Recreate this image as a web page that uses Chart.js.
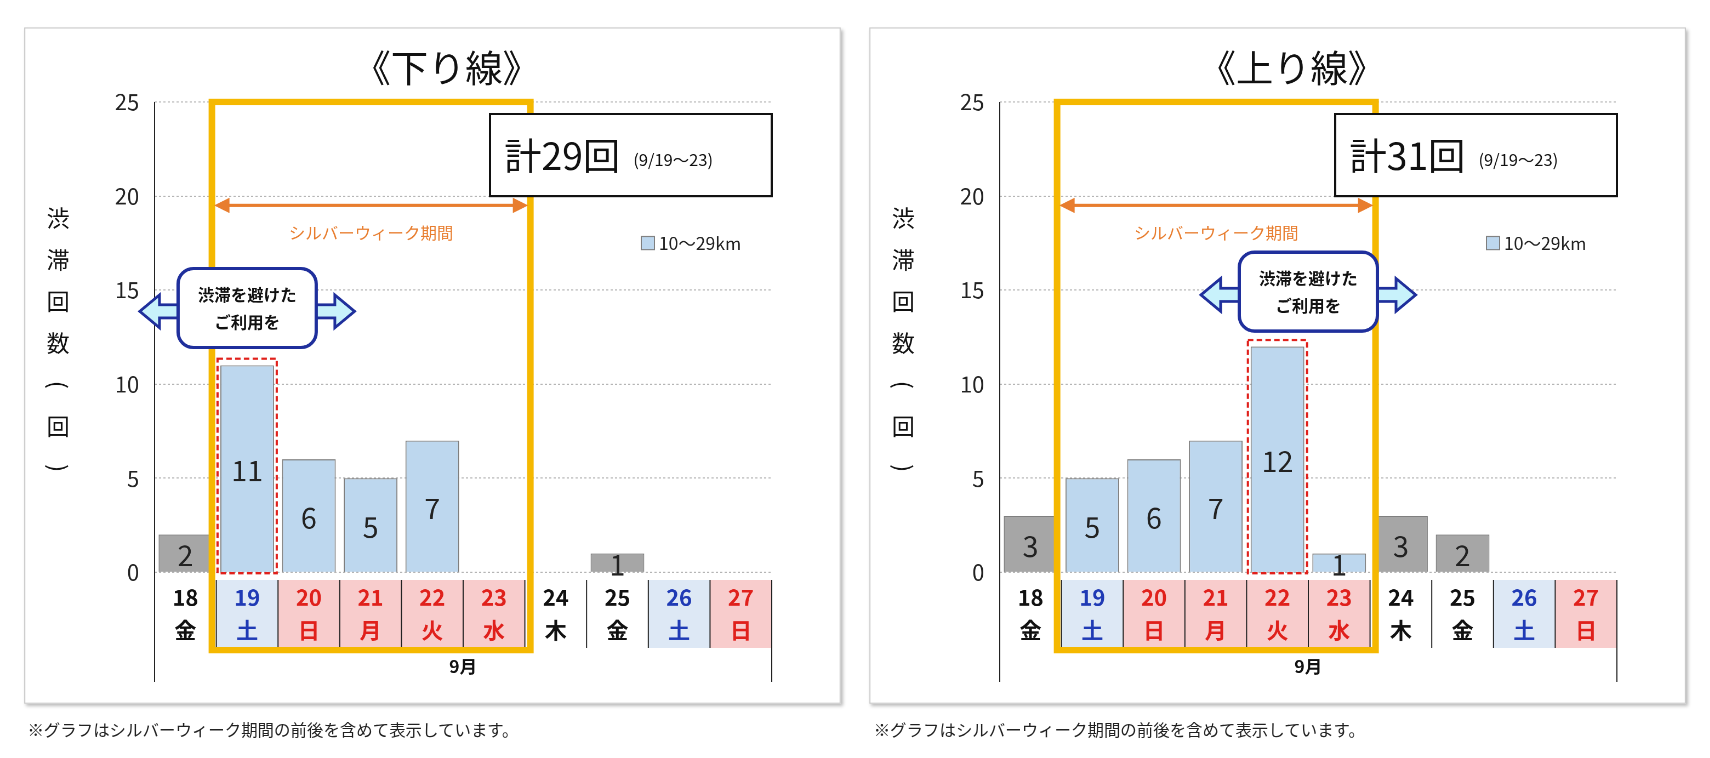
<!DOCTYPE html>
<html><head><meta charset="utf-8">
<script src="https://cdn.jsdelivr.net/npm/chart.js@4"></script>
<style>
body{margin:0;background:#fff;width:1710px;height:758px;position:relative;font-family:"Noto Sans CJK JP",sans-serif;overflow:hidden}
#wrap{position:absolute;left:0;top:0;width:1560px;height:692px;transform:scale(1.0962);transform-origin:0 0}
.panel{position:absolute;top:25px;width:743px;height:615px;border:1px solid #c8c8c8;box-shadow:2px 2px 3px #bbb;background:#fff}
.note{position:absolute;top:654px;font-size:15px;color:#222}
</style></head><body>
<div id="wrap">
<div class="panel" style="left:22px"><canvas id="down" width="743" height="615"></canvas></div>
<div class="panel" style="left:793px"><canvas id="up" width="743" height="615"></canvas></div>
<div class="note" style="left:25px">※グラフはシルバーウィーク期間の前後を含めて表示しています。</div>
<div class="note" style="left:797px">※グラフはシルバーウィーク期間の前後を含めて表示しています。</div>
</div>
<script>
// categories
var days = ['18', '19', '20', '21', '22', '23', '24', '25', '26', '27'];
var weekdays = ['金', '土', '日', '月', '火', '水', '木', '金', '土', '日'];
var dayType = ['w', 's', 'h', 'h', 'h', 'h', 'w', 'w', 's', 'h']; // w=weekday s=sat h=holiday
var silverWeek = [false, true, true, true, true, true, false, false, false, false];
// values (10~29km)
var downValues = [2, 11, 6, 5, 7, null, null, 1, null, null];
var upValues = [3, 5, 6, 7, 12, 1, 3, 2, null, null];
var yTicks = [0, 5, 10, 15, 20, 25];

var JP = '"Noto Sans CJK JP", sans-serif';
var BLUE = '#bdd7ee', GRAY = '#a6a6a6';

function overlay(opt) {
  return {
    id: 'overlay',
    afterDatasetsDraw: function (chart) {
      var c = chart.ctx, x = chart.scales.x, y = chart.scales.y, a = chart.chartArea;
      var step = x.getPixelForValue(1) - x.getPixelForValue(0);
      var cx = function (i) { return x.getPixelForValue(i); };
      var edge = function (i) { return cx(i) - step / 2; };
      var y0 = y.getPixelForValue(0);
      c.save();
      // values inside bars
      var meta = chart.getDatasetMeta(0);
      c.fillStyle = '#222'; c.font = '26px ' + JP; c.textAlign = 'center'; c.textBaseline = 'middle';
      meta.data.forEach(function (b, i) {
        var v = opt.values[i];
        if (v == null) return;
        c.fillText(String(v), b.x, (b.y + b.base) / 2 + 2);
      });
      // date label row
      var top = y0 + 7, bot = y0 + 69;
      for (var i = 0; i < days.length; i++) {
        var t = dayType[i];
        if (t !== 'w') {
          c.fillStyle = t === 's' ? '#dde8f5' : '#f8cccc';
          c.fillRect(edge(i), top, step, bot - top);
        }
        c.fillStyle = t === 's' ? '#1f3ab5' : (t === 'h' ? '#e0201b' : '#111');
        c.font = 'bold 20px ' + JP;
        c.fillText(days[i], cx(i), top + 16);
        c.fillText(weekdays[i], cx(i), top + 46);
      }
      c.strokeStyle = '#222'; c.lineWidth = 1;
      for (i = 1; i < days.length; i++) {
        c.beginPath(); c.moveTo(edge(i), top); c.lineTo(edge(i), bot); c.stroke();
      }
      c.beginPath(); c.moveTo(a.left, a.top); c.lineTo(a.left, y0 + 100);
      c.moveTo(a.right, top); c.lineTo(a.right, y0 + 100); c.stroke();
      c.fillStyle = '#111'; c.font = 'bold 16px ' + JP;
      c.fillText('9月', edge(5), y0 + 86);
      // title
      c.font = '34px ' + JP; c.fillText(opt.title, (a.left + a.right) / 2 - 15, 36);
      // y title vertical
      c.font = '21px ' + JP;
      '渋滞回数（回）'.split('').forEach(function (ch, k) {
        if (ch === '（' || ch === '）') {
          c.save(); c.translate(30, 173 + k * 38); c.rotate(Math.PI / 2); c.fillText(ch === '（' ? '(' : ')', 0, 0); c.restore();
        } else c.fillText(ch, 30, 173 + k * 38);
      });
      // red dashed highlight
      var hb = meta.data[opt.highlight];
      c.strokeStyle = '#e0201b'; c.lineWidth = 2; c.setLineDash([5, 3]);
      c.strokeRect(hb.x - 27, hb.y - 6, 54, y0 - hb.y + 7);
      c.setLineDash([]);
      // yellow silver week frame
      var yl = edge(1) - 4, yr = edge(6) + 5, yt = y.getPixelForValue(25);
      c.strokeStyle = '#f5b800'; c.lineWidth = 6;
      c.strokeRect(yl, yt, yr - yl, y0 + 71 - yt);
      // orange double arrow
      var ay = y.getPixelForValue(19.5);
      c.strokeStyle = c.fillStyle = '#e87d2e'; c.lineWidth = 3;
      c.beginPath(); c.moveTo(yl + 12, ay); c.lineTo(yr - 12, ay); c.stroke();
      [[yl + 2, 1], [yr - 2, -1]].forEach(function (p) {
        c.beginPath(); c.moveTo(p[0], ay); c.lineTo(p[0] + p[1] * 14, ay - 7); c.lineTo(p[0] + p[1] * 14, ay + 7); c.closePath(); c.fill();
      });
      c.font = '15px ' + JP; c.fillText('シルバーウィーク期間', (yl + yr) / 2, ay + 25);
      // total box
      var tr = a.right, tl = tr - 257, tt = yt + 11;
      c.fillStyle = '#fff'; c.fillRect(tl, tt, tr - tl, 75);
      c.strokeStyle = '#111'; c.lineWidth = 2; c.strokeRect(tl, tt, tr - tl, 75);
      c.fillStyle = '#111'; c.textAlign = 'left';
      c.font = '34px ' + JP; c.fillText(opt.total, tl + 13, tt + 38);
      var tw = c.measureText(opt.total).width;
      c.font = '15px ' + JP; c.fillText('(9/19～23)', tl + 25 + tw, tt + 42);
      // legend
      var ly = y.getPixelForValue(17.5);
      c.fillStyle = BLUE; c.fillRect(a.right - 119, ly - 6, 12, 12);
      c.strokeStyle = '#7f7f7f'; c.lineWidth = 1; c.strokeRect(a.right - 119, ly - 6, 12, 12);
      c.fillStyle = '#222'; c.font = '16px ' + JP; c.fillText('10～29km', a.right - 103, ly);
      // callout with double arrow
      var mx = cx(opt.callout), my = opt.calloutY;
      c.fillStyle = '#c8f2fb'; c.strokeStyle = '#1f2f9c'; c.lineWidth = 2.5;
      [-1, 1].forEach(function (d) {
        c.beginPath();
        c.moveTo(mx + d * 50, my - 6); c.lineTo(mx + d * 80, my - 6); c.lineTo(mx + d * 80, my - 15);
        c.lineTo(mx + d * 98, my); c.lineTo(mx + d * 80, my + 15); c.lineTo(mx + d * 80, my + 6);
        c.lineTo(mx + d * 50, my + 6); c.closePath(); c.fill(); c.stroke();
      });
      c.fillStyle = '#fff'; c.lineWidth = 3;
      c.beginPath(); c.roundRect(mx - 63, my - 39, 126, 72, 14); c.fill(); c.stroke();
      c.fillStyle = '#111'; c.textAlign = 'center'; c.font = 'bold 15px ' + JP;
      c.fillText('渋滞を避けた', mx, my - 15); c.fillText('ご利用を', mx, my + 10);
      c.restore();
    }
  };
}

function makeChart(id, values, o) {
  return new Chart(document.getElementById(id), {
    type: 'bar',
    data: {
      labels: days,
      datasets: [{
        data: values,
        backgroundColor: silverWeek.map(function (s) { return s ? BLUE : GRAY; }),
        borderColor: '#7f7f7f', borderWidth: 1,
        barPercentage: 0.87, categoryPercentage: 1
      }]
    },
    options: {
      responsive: false, animation: false, devicePixelRatio: 2,
      layout: { padding: { top: 67, bottom: 119, right: 62, left: 0 } },
      plugins: { legend: { display: false }, tooltip: { enabled: false } },
      scales: {
        x: { display: false },
        y: {
          min: 0, max: 25,
          afterFit: function (s) { s.width = 118; },
          afterBuildTicks: function (s) { s.ticks = yTicks.map(function (v) { return { value: v }; }); },
          ticks: { color: '#222', font: { size: 20, family: JP }, padding: 14 },
          grid: { color: '#b5b5b5', drawTicks: false, lineWidth: 1 },
          border: { display: false, dash: [2, 2] }
        }
      }
    },
    plugins: [overlay(o)]
  });
}

makeChart('down', downValues, { values: downValues, title: '《下り線》', total: '計29回', highlight: 1, callout: 1, calloutY: 258 });
makeChart('up', upValues, { values: upValues, title: '《上り線》', total: '計31回', highlight: 4, callout: 4.5, calloutY: 243 });
</script>
</body></html>
